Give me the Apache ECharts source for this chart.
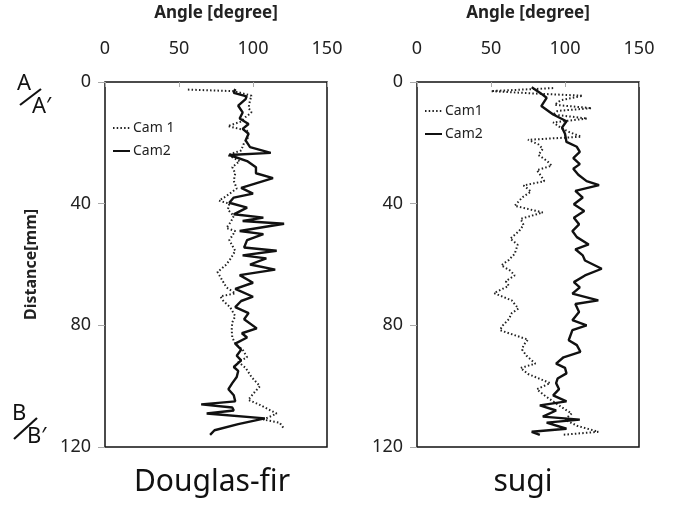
<!DOCTYPE html>
<html>
<head>
<meta charset="utf-8">
<title>Angle vs distance</title>
<script src="https://cdn.jsdelivr.net/npm/echarts@6/dist/echarts.min.js"></script>
<style>
  html, body { margin: 0; padding: 0; background: #fff; }
  #chart { width: 677px; height: 510px; }
</style>
</head>
<body>
<div id="chart"></div>
<script>
// panel titles and axis ticks
const panels = ['Douglas-fir', 'sugi'];
const angleTicks = [0, 50, 100, 150];
const distTicks = [0, 40, 80, 120];

// Douglas-fir, Cam 1 (dotted): distance [mm] / angle [degree]
const dfCam1Dist = [2.5, 3, 4.5, 6, 8.5, 10, 11.5, 13, 14.5, 16, 18, 20, 22.5, 24, 26, 28, 30, 32.5, 35, 37.5,
  39, 40, 42, 44, 46, 48, 49, 52, 55.5, 58, 60, 62.5, 65, 67.5, 69.5, 70.5, 72, 74, 77, 79,
  81.5, 84, 86, 88, 90.5, 92, 94, 97, 100, 102, 104.5, 106, 109, 111, 112, 114];
const dfCam1Angle = [56, 87, 99, 98, 97, 99, 95, 92, 83, 96, 97, 94, 92, 83, 91, 86, 88, 87, 89, 82,
  77, 84, 83, 87, 85, 82, 88, 84, 88, 85, 82, 76, 79, 82, 88, 78, 80, 84.5, 88, 86,
  85.6, 86, 88, 93, 96, 90, 95, 99, 104.7, 101, 96.8, 104, 116, 107, 118, 121];

// Douglas-fir, Cam2 (solid)
const dfCam2Dist = [2.3, 3.6, 4.7, 5.6, 7.8, 10, 12, 13.8, 15.4, 17, 19.2, 21.4, 23.3, 24, 26, 28, 30, 31.6, 34.8, 36.7,
  38, 39.7, 41.3, 43.5, 44.6, 45.7, 46.6, 49, 50, 52, 54.4, 55.5, 57, 58, 60, 61.7, 63.5, 66, 68, 70.6,
  72, 74, 76, 78, 81, 82.6, 84, 86, 88, 90, 91.5, 93.7, 95, 97, 99, 101, 103, 105, 106, 107,
  108, 109, 110.6, 112.5, 114.5, 116];
const dfCam2Angle = [88, 87, 95.7, 95, 90, 93, 91, 97, 93, 97, 95, 98, 112, 84, 96, 102, 102, 113.5, 92, 100,
  87, 84, 96, 87, 107, 93, 121, 91, 107, 96, 94, 116, 93, 109, 98, 115, 91, 100, 88, 100,
  92, 88, 97, 94, 102.5, 92.5, 96, 88, 92, 89, 92, 87, 90, 89, 86, 83.4, 87, 88, 65, 86,
  87, 68.7, 108, 90, 74, 71];

// sugi, Cam1 (dotted)
const sgCam1Dist = [2, 3, 3.8, 4.5, 6, 7.5, 8.6, 9.5, 10.7, 12, 13.3, 15, 16.5, 18, 19, 20.5, 22, 24, 26, 27.5,
  29, 31, 32.6, 34, 36, 38, 40.7, 42.9, 45, 47, 49, 51.5, 53.5, 56.5, 58.5, 60.3, 62, 63.6, 65.5, 67,
  69.4, 71.8, 73, 74.5, 76, 78, 80, 81.6, 84.7, 86.5, 88, 90, 92.6, 94, 96, 98, 99, 101, 103, 105,
  107, 109, 111, 113, 115, 116];
const sgCam1Angle = [92, 50, 80, 112, 97, 93, 118, 95, 92, 115, 92, 97, 103, 111, 75, 82, 85, 82, 88, 91,
  81, 84, 86, 72, 77, 71, 66, 85, 70, 72, 69, 63, 68, 66, 62, 57, 63, 66, 60, 62,
  52, 64, 66, 68.5, 64, 62, 58, 56, 75, 72, 71, 74, 80, 70, 75, 85, 90, 81, 86, 92,
  98, 104.5, 100, 108, 122.5, 98];

// sugi, Cam2 (solid)
const sgCam2Dist = [1.7, 3.5, 5.2, 7.9, 10.7, 12.9, 15, 17, 19.7, 21.3, 23, 25, 27, 28.5, 30.5, 32.6, 33.9, 35.8, 38, 40.2,
  42.4, 44.6, 46.8, 49, 51, 53.4, 55, 57, 58.7, 61.4, 63.6, 65.8, 67.5, 69.6, 71.8, 73, 75.6, 78.3, 80, 81.6,
  84.9, 86.5, 88.7, 90.5, 92.6, 94, 95.8, 97.5, 99, 101, 103, 105, 106.3, 108, 110, 111, 112, 114, 115, 116];
const sgCam2Angle = [77.5, 83, 87.6, 84, 92, 101, 98, 100, 101, 108, 110, 105.6, 110, 105.6, 109, 114.6, 123, 107, 112, 106,
  113, 106, 109.5, 105, 108, 116, 107, 112, 113.5, 124.8, 113.5, 106, 110, 105, 122.5, 107, 109.5, 105, 114.6, 105,
  102.5, 108, 110.4, 99, 94, 100, 101, 95, 94, 96, 92, 101, 83, 94, 85, 110, 87.6, 101, 77.5, 83];

const pair = (angle, dist) => angle.map((a, i) => [a, dist[i]]);

const FONT = 'Noto Sans';
const grids = [
  { left: 105, top: 81, width: 222, height: 366 },
  { left: 417, top: 81, width: 222, height: 366 }
];

const chart = echarts.init(document.getElementById('chart'));

const dotted = { color: '#222', width: 2, type: [1.5, 2.2] };
const solid = { color: '#111', width: 2.4, type: 'solid' };

const legendBase = {
  orient: 'vertical',
  itemWidth: 17, itemHeight: 10, itemGap: 9,
  itemStyle: { opacity: 0 },
  textStyle: { fontFamily: FONT, fontSize: 14, color: '#222', padding: [0, 0, 0, -2] }
};

chart.setOption({
  animation: false,
  textStyle: { fontFamily: FONT },
  title: panels.map((t, i) => ({
    text: t,
    left: i === 0 ? 207 : 518,
    top: 462,
    textAlign: 'center',
    textStyle: { fontFamily: FONT, fontSize: 30, fontWeight: 'normal', color: '#111' }
  })),
  legend: [
    Object.assign({ data: ['Cam 1', 'Cam2'], left: 107, top: 116 }, legendBase),
    Object.assign({ data: ['Cam1', 'Cam2'], left: 419, top: 99 }, legendBase)
  ],
  grid: grids.map(g => Object.assign({
    show: true, borderColor: '#111', borderWidth: 1.5, backgroundColor: 'transparent'
  }, g)),
  xAxis: [0, 1].map(i => ({
    type: 'value',
    gridIndex: i,
    position: 'top',
    min: angleTicks[0], max: angleTicks[angleTicks.length - 1], interval: 50,
    name: 'Angle [degree]',
    nameLocation: 'middle',
    nameGap: 60,
    nameTextStyle: { fontFamily: FONT, fontSize: 17, fontWeight: 'bold', color: '#222' },
    axisLine: { show: false },
    axisTick: { show: true, inside: true, length: 5, lineStyle: { color: '#aaa' } },
    axisLabel: { margin: 24, fontSize: 18, color: '#222', fontFamily: FONT },
    splitLine: { show: false }
  })),
  yAxis: [0, 1].map(i => ({
    type: 'value',
    gridIndex: i,
    inverse: true,
    min: distTicks[0], max: distTicks[distTicks.length - 1], interval: 40,
    name: i === 0 ? 'Distance[mm]' : '',
    nameLocation: 'middle',
    nameGap: 66,
    nameRotate: 90,
    nameTextStyle: { fontFamily: FONT, fontSize: 16, fontWeight: 'bold', color: '#222' },
    axisLine: { show: false },
    axisTick: { show: true, length: 7, lineStyle: { color: '#aaa' } },
    axisLabel: { margin: 14, fontSize: 18, color: '#222', fontFamily: FONT },
    splitLine: { show: false }
  })),
  series: [
    { name: 'Cam 1', type: 'line', xAxisIndex: 0, yAxisIndex: 0, symbol: 'none',
      data: pair(dfCam1Angle, dfCam1Dist), lineStyle: dotted, itemStyle: { color: '#222' } },
    { name: 'Cam2', type: 'line', xAxisIndex: 0, yAxisIndex: 0, symbol: 'none',
      data: pair(dfCam2Angle, dfCam2Dist), lineStyle: solid, itemStyle: { color: '#111' } },
    { name: 'Cam1', type: 'line', xAxisIndex: 1, yAxisIndex: 1, symbol: 'none',
      data: pair(sgCam1Angle, sgCam1Dist), lineStyle: dotted, itemStyle: { color: '#222' } },
    { name: 'Cam2', type: 'line', xAxisIndex: 1, yAxisIndex: 1, symbol: 'none',
      data: pair(sgCam2Angle, sgCam2Dist), lineStyle: solid, itemStyle: { color: '#111' } }
  ],
  // A/A' and B/B' section marks
  graphic: [
    { type: 'text', left: 17, top: 73, style: { text: 'A', font: '22px "Noto Sans"', fill: '#111' } },
    { type: 'line', shape: { x1: 20, y1: 105, x2: 41, y2: 89 }, style: { stroke: '#111', lineWidth: 2.2 } },
    { type: 'text', left: 32, top: 96, style: { text: 'A\u2032', font: '22px "Noto Sans"', fill: '#111' } },
    { type: 'text', left: 12, top: 403, style: { text: 'B', font: '22px "Noto Sans"', fill: '#111' } },
    { type: 'line', shape: { x1: 14, y1: 439, x2: 37, y2: 418 }, style: { stroke: '#111', lineWidth: 2.2 } },
    { type: 'text', left: 27, top: 426, style: { text: 'B\u2032', font: '22px "Noto Sans"', fill: '#111' } }
  ]
});
</script>
</body>
</html>
